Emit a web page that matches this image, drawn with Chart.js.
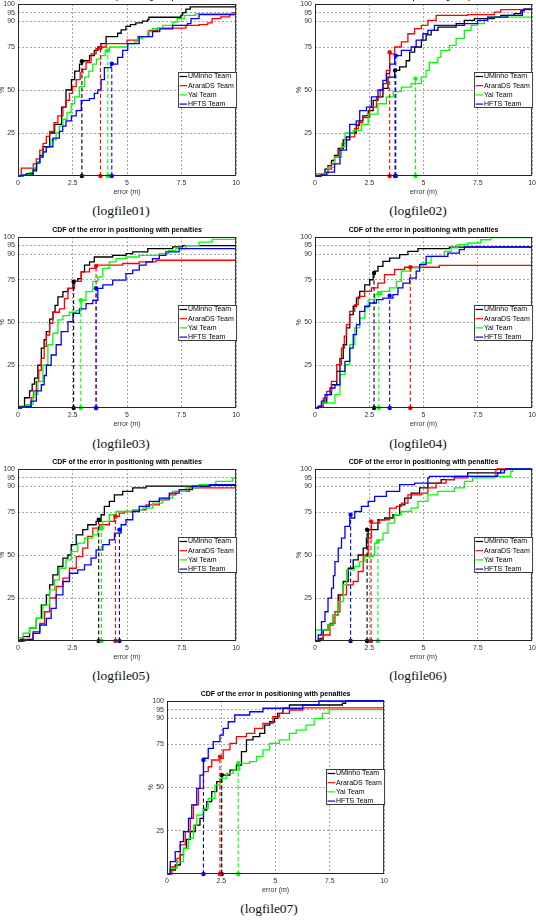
<!DOCTYPE html>
<html><head><meta charset="utf-8">
<script src="https://cdn.jsdelivr.net/npm/chart.js@4/dist/chart.umd.min.js"></script>
<style>
html,body{margin:0;padding:0;background:#fff}
body{width:536px;height:921px;position:relative;overflow:hidden}
.cap{position:absolute;font-family:"Liberation Serif","Times New Roman",serif;font-size:13.5px;color:#111;transform:translate(-50%,-50%);white-space:nowrap}
</style></head><body>
<script>
const TEAMS = ['UMinho Team','AraraDS Team','Yai Team','HFTS Team'];
const COLORS = ['#000000','#ff0000','#00ff00','#0000ff'];
const X_TICKS = [0,2.5,5,7.5,10];
const Y_TICKS = [25,50,75,90,95,100];
const TITLE = 'CDF of the error in positioning with penalties';
const X_LABEL = 'error (m)';
const Y_LABEL = '%';
const CAPTIONS = ['(logfile01)','(logfile02)','(logfile03)','(logfile04)','(logfile05)','(logfile06)','(logfile07)'];

// logfile01
const U01 = [[0,0],[0.25,0.5],[0.7,3],[0.85,8],[1.0,12],[1.15,17],[1.45,25],[1.68,30],[2.0,40],[2.2,50],[2.45,56],[2.6,61],[2.82,65],[2.95,67],[3.28,70],[3.5,73],[3.66,75],[3.8,77],[4.04,81],[4.57,83],[4.73,85],[4.95,87],[5.15,88],[5.4,89],[5.7,90],[5.95,91],[6.0,92.3],[7.47,93.5],[7.55,95],[7.7,97],[7.9,98.3],[10,98.3]];
const R01 = [[0,0],[0.15,4.6],[0.7,7],[0.84,10],[1.0,15],[1.15,19],[1.3,23],[1.45,26],[1.65,31],[1.83,35],[2.06,40],[2.2,44],[2.36,48],[2.5,52],[2.67,56],[2.85,60],[2.97,62],[3.12,66],[3.35,71],[3.58,74],[3.81,75],[4.04,77],[5.0,79],[5.5,81],[6.0,84.7],[6.4,86],[7.7,87.6],[8.3,88],[8.7,89],[8.9,91.5],[9.3,92.5],[9.7,93.8],[9.85,95],[10,95]];
const G01 = [[0,0],[0.23,0.5],[0.5,2],[0.7,5],[0.85,8],[1.0,11],[1.15,14],[1.3,17],[1.5,21],[1.75,25],[1.9,29],[2.06,33],[2.25,37],[2.44,42],[2.6,46],[2.82,52],[3.05,57.5],[3.25,61],[3.43,65],[3.6,68],[3.81,70],[4.0,73],[4.19,75],[5.03,77],[5.34,78],[5.5,80],[5.7,81],[5.95,84],[6.17,85.7],[6.63,87.6],[7.09,89.5],[7.3,91.5],[7.62,93.4],[8.15,94.4],[10,94.4]];
const B01 = [[0,0],[0.15,0.5],[0.38,1.4],[0.69,4],[0.85,7.5],[1.0,11],[1.15,14],[1.3,17],[1.6,22],[1.9,26],[2.05,29],[2.2,32],[2.45,35],[2.67,38],[2.9,44],[3.28,45],[3.5,48],[3.66,50],[3.81,56],[3.96,63],[4.27,65],[4.57,69],[4.8,73],[5.03,77],[5.56,81],[6.17,84],[6.5,85.5],[7.09,87.6],[7.77,88.6],[7.93,91.5],[8.3,93.8],[10,93.8]];
const MARK01_X = [2.93,3.78,4.12,4.3];
const MARK01_Y = [66.7,74.4,73,65.3];

// logfile02
const U02 = [[0,0],[0.3,1],[0.46,4],[0.6,6],[0.76,9],[0.9,12],[1.07,16],[1.3,21],[1.6,25],[1.9,29.5],[2.05,32],[2.2,35],[2.45,38],[2.68,44],[2.9,46],[3.13,51],[3.36,57.5],[3.67,61.4],[3.9,63.4],[4.2,67],[4.36,72],[4.59,75],[4.9,79],[5.12,82],[5.35,84.7],[5.66,86.6],[6.5,88.6],[6.88,90.5],[7.34,91.5],[8.26,92.4],[8.56,93.4],[9.17,94.4],[9.48,96],[9.63,97],[10,97]];
const R02 = [[0,0],[0.15,0.5],[0.38,1.5],[0.6,4],[0.76,7],[0.9,11],[1.07,15],[1.25,19],[1.45,22.7],[1.83,27.5],[2.0,31],[2.2,34],[2.52,40],[2.83,46],[3.0,50],[3.13,53.7],[3.29,61.4],[3.44,71],[3.67,75],[3.98,78],[4.28,82.7],[4.59,85.7],[4.9,87.6],[5.2,90.5],[5.58,93.4],[7.03,93.8],[8.26,95.3],[8.56,96.7],[10,96.7]];
const G02 = [[0,0],[0.05,1.4],[0.38,1.4],[0.6,5],[0.9,11],[1.22,17],[1.38,25],[1.76,26.5],[2.14,30],[2.45,36],[2.9,42],[3.29,46],[3.6,49],[3.98,51.7],[4.43,53.7],[4.9,57.5],[5.12,61.4],[5.27,66],[5.66,69],[5.8,73],[6.2,76],[6.5,80],[6.88,84.7],[7.19,87.6],[7.49,88.6],[7.8,90.5],[7.95,92.4],[10,92.4]];
const B02 = [[0,0],[0.23,0.5],[0.54,2.3],[0.9,7],[1.15,15],[1.45,22.7],[1.6,30],[1.9,32],[2.06,38],[2.37,40],[2.6,46],[2.9,50],[3.13,55.6],[3.29,59.5],[3.44,65],[3.67,70],[3.98,73],[4.43,75],[4.66,79],[4.97,82.7],[5.2,84.7],[5.5,87.6],[6.88,88.6],[7.49,90.5],[7.95,92.4],[8.87,93.4],[9.55,96.3],[9.63,97],[10,97]];
const MARK02_X = [3.69,3.44,4.63,3.72];
const MARK02_Y = [61.4,72,56.6,70];

// logfile03
const U03 = [[0,0],[0.05,1],[0.3,6],[0.53,10],[0.65,14],[0.76,17.5],[0.91,25],[1.07,35],[1.2,40],[1.3,44.7],[1.45,52],[1.6,56],[1.7,60],[1.83,65],[2.06,68],[2.29,70],[2.52,74],[2.74,75.7],[2.9,79.6],[3.05,83.5],[3.28,85.4],[3.5,88.3],[4.34,89.3],[4.95,90.3],[5.26,91.3],[5.95,93.2],[7.09,94.2],[7.55,95],[10,95]];
const R03 = [[0,0],[0.15,0.5],[0.38,1],[0.6,6],[0.72,10],[0.84,15.5],[0.95,22],[1.07,29],[1.2,36],[1.3,42.7],[1.45,49.5],[1.6,56],[1.9,58],[2.13,64],[2.29,70],[2.59,74],[2.9,79.6],[3.28,81.6],[3.58,83.5],[4.8,84.5],[5.56,85.4],[6.33,86.4],[10,86.4]];
const G03 = [[0,0],[0.1,0.5],[0.38,2],[0.69,8],[0.91,15.5],[1.14,25],[1.37,37],[1.6,43.7],[1.83,51.5],[2.06,54],[2.36,56],[2.67,57],[2.9,63],[3.12,68],[3.43,74],[3.66,76.7],[3.89,81.6],[4.19,85.4],[4.5,87.4],[4.95,88.3],[5.56,89.3],[6.48,90.3],[6.9,92],[7.24,93.2],[7.7,95],[8.3,97],[8.9,98.6],[10,98.6]];
const B03 = [[0,0],[0.15,0.5],[0.38,1],[0.6,4],[0.84,10],[1.07,13.6],[1.2,19],[1.3,25],[1.52,31],[1.75,37],[1.98,44.7],[2.29,50.5],[2.52,55.3],[2.82,58],[3.12,61],[3.43,63],[3.66,70],[3.89,72],[4.34,74.8],[4.95,78.6],[5.26,80.6],[5.56,83.5],[5.87,85.4],[6.17,87.4],[6.48,89.3],[6.78,91.3],[7.39,93.2],[10,93.2]];
const MARK03_X = [2.55,3.58,2.88,3.58];
const MARK03_Y = [73.8,83,63,70];

// logfile04
const U04 = [[0,0],[0.15,1],[0.3,3],[0.54,7.8],[0.76,13.6],[1.0,21.4],[1.15,29],[1.3,37],[1.45,46.8],[1.6,54.6],[1.76,59.5],[1.91,64.3],[2.06,68.2],[2.29,72],[2.52,75],[2.68,78],[2.75,80],[2.9,82.8],[3.13,85.8],[3.44,87.7],[3.9,89.7],[4.28,91.6],[4.74,93.2],[6.19,94.1],[10,94.1]];
const R04 = [[0,0],[0.15,1],[0.38,5.8],[0.54,9.7],[0.76,15.6],[1.0,25.3],[1.22,35],[1.35,42],[1.45,48.7],[1.6,56.5],[1.83,60.4],[1.99,65.3],[2.29,68.2],[2.6,70.2],[2.9,73],[3.2,78],[3.67,81],[4.13,82.3],[5.73,83.4],[10,83.4]];
const G04 = [[0,0],[0.15,1],[0.3,3],[0.92,7.8],[1.15,19.5],[1.38,25.3],[1.6,37],[1.83,46.8],[2.06,52.6],[2.29,58.5],[2.45,63.4],[2.75,66.3],[3.06,68.2],[3.44,70.2],[3.75,74],[3.98,80],[4.43,81.9],[4.9,84.8],[5.35,88.7],[5.96,91.6],[6.27,93.6],[6.57,95.5],[7.03,96.5],[7.64,98.4],[8.1,99.6],[10,99.6]];
const B04 = [[0,0],[0.15,1],[0.3,4],[0.46,7.8],[0.69,11.7],[0.92,13.6],[1.15,21.4],[1.38,27.3],[1.6,35],[1.76,42.9],[1.91,48.7],[2.06,56.5],[2.29,59.5],[2.52,61.4],[2.83,63.4],[3.13,64.3],[3.59,66.3],[3.82,70.2],[4.05,73],[4.36,76],[4.66,80],[4.82,83.8],[5.12,88.7],[6.12,90.6],[6.65,92.6],[6.88,94.2],[10,94.2]];
const MARK04_X = [2.72,4.39,2.94,3.44];
const MARK04_Y = [79,82.3,67.3,65.7];

// logfile05
const U05 = [[0,0],[0.1,1],[0.23,2.5],[0.53,7.4],[0.84,13.2],[1.07,21],[1.3,26.8],[1.45,32.6],[1.6,38.4],[1.83,43.3],[2.06,48.2],[2.29,50],[2.44,56],[2.67,61.7],[2.97,64.7],[3.2,67.6],[3.58,69.5],[3.81,73.4],[3.96,78.3],[4.19,81.2],[4.42,85],[4.8,87],[5.26,89],[5.87,90],[8.8,90.5],[10,90.5]];
const R05 = [[0,0],[0.3,1],[0.69,5.4],[1.0,10.3],[1.22,17],[1.45,25],[1.75,31.7],[2.06,36.5],[2.36,42.3],[2.67,49],[2.97,54],[3.2,60.8],[3.43,65.6],[3.73,67.6],[4.19,69.5],[4.42,72.4],[4.65,74.4],[4.88,75.3],[5.26,76.3],[5.87,79.2],[6.48,82.1],[6.94,85],[7.24,87],[7.85,89],[10,89]];
const G05 = [[0,0],[0.02,2],[0.23,4.5],[0.53,7.4],[0.84,13.2],[1.14,21],[1.45,29.7],[1.68,35.5],[1.9,42.3],[2.2,47.2],[2.44,52],[2.74,56.9],[3.05,59.8],[3.43,61.7],[3.66,64.7],[3.89,69.5],[4.19,73.4],[4.5,75.3],[5.26,76.3],[5.72,77.3],[6.17,80.2],[6.63,83.1],[7.09,87],[7.7,89],[8.3,90.9],[9.07,92.8],[9.83,94.8],[10,94.8]];
const B05 = [[0,0],[0.23,0.5],[0.46,1],[0.69,4.5],[1.0,9.3],[1.3,13.2],[1.52,19],[1.75,26.8],[2.06,34.6],[2.36,39.4],[2.74,41.4],[3.05,44.3],[3.35,48.2],[3.58,53],[3.89,56],[4.19,58.8],[4.42,62.7],[4.73,67.6],[4.95,70.5],[5.26,75.3],[5.56,78.3],[6.02,81.2],[6.48,83.1],[6.94,86],[7.39,88],[8.0,90],[8.77,90.9],[10,90.9]];
const MARK05_X = [3.7,4.47,3.83,4.65];
const MARK05_Y = [70.5,72.4,65.6,64.7];

// logfile06
const U06 = [[0,0],[0.23,1.5],[0.38,6.4],[0.6,9.3],[0.84,15.1],[1.07,26.8],[1.3,34.6],[1.53,42.3],[1.76,47.2],[1.99,50],[2.22,54],[2.37,59.8],[2.45,64.7],[2.9,70.5],[3.21,71.5],[3.59,73.4],[3.9,79.2],[4.13,83.1],[4.43,86],[4.82,89],[5.2,91.8],[5.81,93.8],[6.42,95.7],[7.03,97.7],[8.56,99.6],[8.8,100],[10,100]];
const R06 = [[0,0],[0.15,1],[0.38,3.5],[0.69,10.3],[0.92,17],[1.15,26.8],[1.45,32.6],[1.76,34.6],[1.99,40.4],[2.22,50],[2.45,59.8],[2.6,68.5],[2.98,70.5],[3.44,77.3],[3.75,78.3],[3.98,80.2],[4.28,85],[4.9,86],[5.2,89],[5.58,91.8],[6.04,93.8],[6.42,94.8],[7.03,95.7],[8.33,99.6],[8.4,100],[10,100]];
const G06 = [[0,0],[0.03,6.4],[0.46,6.4],[0.6,9.3],[0.84,15.1],[1.07,22.9],[1.3,32.6],[1.45,41.4],[1.83,43.3],[2.06,46.2],[2.29,49.1],[2.68,50],[2.75,56.9],[2.9,58.8],[3.13,62.7],[3.36,68.5],[3.67,73.4],[3.98,75.3],[4.43,77.3],[4.74,81.2],[5.2,85],[5.66,87],[6.42,89],[6.88,92.8],[7.26,94.8],[8.26,95.7],[9.02,98.6],[9.1,100],[10,100]];
const B06 = [[0,0],[0.15,3.5],[0.3,11.3],[0.46,17],[0.6,24.9],[0.76,30.7],[0.85,38],[0.92,46.2],[1.07,54],[1.22,59.8],[1.38,66.6],[1.6,71.5],[1.83,75.3],[2.14,78.3],[2.45,81.2],[2.75,84.1],[3.29,87],[3.9,90.9],[4.59,91.8],[5.2,94.8],[5.27,95.7],[8.41,97.7],[8.72,99.6],[8.8,100],[10,100]];
const MARK06_X = [2.4,2.58,2.9,1.64];
const MARK06_Y = [64.7,69.5,57.9,73.4];

// logfile07
const U07 = [[0,0],[0.15,2.3],[0.38,5.2],[0.61,11],[0.76,14.8],[0.9,20],[1.07,24.5],[1.3,28.3],[1.52,32.2],[1.68,37],[1.83,41.8],[2.06,47.6],[2.29,53.4],[2.52,57.2],[2.9,60],[3.2,63],[3.43,70.7],[3.66,77.5],[3.96,79.4],[4.27,81.3],[4.5,86.1],[4.73,88],[4.95,90],[5.1,92.9],[5.34,95.8],[5.64,97.7],[8.08,98.7],[8.23,100],[10,100]];
const R07 = [[0,0],[0.23,4.2],[0.46,9],[0.61,16.8],[0.84,24.5],[1.07,32.2],[1.22,39.9],[1.45,49.5],[1.68,59.2],[1.9,62],[2.06,65.9],[2.44,66.9],[2.59,71.7],[2.9,75.5],[3.2,79.4],[3.66,81.3],[4.04,84.2],[4.42,87.1],[4.88,90.9],[5.18,92.9],[5.64,94.8],[6.25,96],[10,96]];
const G07 = [[0,0],[0.15,3.3],[0.46,7.1],[0.76,14.8],[0.99,20.6],[1.22,28.3],[1.37,34.1],[1.68,38],[1.9,43.7],[2.21,51.4],[2.44,55.3],[2.74,58.2],[3.05,60.1],[3.35,64],[3.81,64.9],[4.12,67.8],[4.42,71.7],[4.73,75.5],[5.18,77.5],[5.64,81.3],[5.95,83.2],[6.4,86.1],[6.78,90],[7.16,92.9],[7.47,95],[10,95]];
const B07 = [[0,0],[0.15,7.1],[0.38,12.9],[0.61,18.7],[0.76,24.5],[0.99,32.2],[1.14,39.9],[1.37,49.5],[1.52,57.2],[1.68,66.9],[1.9,72.6],[2.13,76.5],[2.44,80.3],[2.59,84.2],[2.82,88],[3.12,91.9],[3.81,93.8],[4.42,95.8],[6.25,97.7],[7.0,100],[10,100]];
const MARK07_X = [2.52,2.44,3.28,1.68];
const MARK07_Y = [57.2,67.8,64,65.9];

// layout (plot-area boxes in page pixels)
const PANELS = [
  {curves:[U01,R01,G01,B01], mx:MARK01_X, my:MARK01_Y, cap:CAPTIONS[0], L:18, T:4, R:237, B:176, cx:121, cy:211},
  {curves:[U02,R02,G02,B02], mx:MARK02_X, my:MARK02_Y, cap:CAPTIONS[1], L:315, T:4, R:533, B:176, cx:418, cy:211},
  {curves:[U03,R03,G03,B03], mx:MARK03_X, my:MARK03_Y, cap:CAPTIONS[2], L:18, T:237, R:237, B:408, cx:121, cy:444},
  {curves:[U04,R04,G04,B04], mx:MARK04_X, my:MARK04_Y, cap:CAPTIONS[3], L:315, T:237, R:533, B:408, cx:418, cy:444},
  {curves:[U05,R05,G05,B05], mx:MARK05_X, my:MARK05_Y, cap:CAPTIONS[4], L:18, T:469, R:237, B:641, cx:121, cy:676},
  {curves:[U06,R06,G06,B06], mx:MARK06_X, my:MARK06_Y, cap:CAPTIONS[5], L:315, T:469, R:533, B:641, cx:418, cy:676},
  {curves:[U07,R07,G07,B07], mx:MARK07_X, my:MARK07_Y, cap:CAPTIONS[6], L:167, T:701, R:385, B:874, cx:269, cy:909}
];

Chart.defaults.font.family = '"Liberation Sans", Arial, sans-serif';
Chart.defaults.font.size = 7;

const PADL = 20, PADT = 14, PADR = 6, PADB = 24;

function decorPlugin(){
  return {
    id:'decor',
    afterDraw(chart){
      const ctx = chart.ctx, a = chart.chartArea;
      ctx.save();
      ctx.strokeStyle = '#262626'; ctx.lineWidth = 1; ctx.setLineDash([]);
      ctx.strokeRect(a.left+0.5, a.top+0.5, a.right-a.left-1, a.bottom-a.top-1);
      ctx.fillStyle = '#000';
      ctx.font = 'bold 7px "Liberation Sans", Arial, sans-serif';
      ctx.textAlign = 'center'; ctx.textBaseline = 'middle';
      ctx.fillText(TITLE, (a.left+a.right)/2, a.top-6.7);
      const x0 = a.right-58, x1 = a.right+1, y0 = a.top+68, y1 = a.top+104;
      ctx.fillStyle = '#fff'; ctx.fillRect(x0, y0, x1-x0, y1-y0);
      ctx.strokeStyle = '#262626'; ctx.lineWidth = 0.9;
      ctx.strokeRect(x0+0.5, y0+0.5, x1-x0-1, y1-y0-1);
      ctx.font = '7px "Liberation Sans", Arial, sans-serif';
      ctx.textAlign = 'left';
      TEAMS.forEach((t,i)=>{
        const y = y0 + 4.5 + i*9.2;
        ctx.strokeStyle = COLORS[i]; ctx.lineWidth = 1.2;
        ctx.beginPath(); ctx.moveTo(x0+1.5, y); ctx.lineTo(x0+9, y); ctx.stroke();
        ctx.fillStyle = '#000'; ctx.fillText(t, x0+9.8, y);
      });
      ctx.restore();
    }
  };
}

function makePanel(p){
  const W = p.R - p.L + PADL + PADR, H = p.B - p.T + PADT + PADB;
  const cv = document.createElement('canvas');
  cv.width = W; cv.height = H;
  cv.style.cssText = `position:absolute;left:${p.L-PADL}px;top:${p.T-PADT}px;width:${W}px;height:${H}px`;
  document.body.appendChild(cv);
  const datasets = [];
  for (let i=3;i>=0;i--) {
    datasets.push({
      data:[{x:p.mx[i],y:0},{x:p.mx[i],y:p.my[i]}],
      borderColor:COLORS[i], backgroundColor:COLORS[i], borderWidth:1.1, borderDash:[4,2.5],
      pointRadius:2.2, pointBorderWidth:0, pointBackgroundColor:COLORS[i], fill:false, clip:4
    });
  }
  for (let i=3;i>=0;i--) {
    datasets.push({
      data:p.curves[i].map(([x,y])=>({x,y})),
      borderColor:COLORS[i], borderWidth:1.3, pointRadius:0, stepped:true, fill:false, clip:3
    });
  }
  new Chart(cv, {
    type:'line',
    data:{datasets},
    options:{
      responsive:false, animation:false, devicePixelRatio:1,
      layout:{padding:{top:PADT,right:PADR,left:0,bottom:0}},
      plugins:{legend:{display:false}, tooltip:{enabled:false}, title:{display:false}},
      scales:{
        x:{type:'linear', min:0, max:10,
          afterBuildTicks:s=>{ s.ticks = X_TICKS.map(v=>({value:v})); },
          afterFit:s=>{ s.height = PADB; },
          ticks:{autoSkip:false, maxRotation:0, padding:3, color:'#333', font:{size:7}, callback:v=>String(v)},
          grid:{color:'#8f8f8f', lineWidth:0.8, drawTicks:false},
          border:{display:false, dash:[2,2]},
          title:{display:true, text:X_LABEL, color:'#333', font:{size:7}, padding:{top:0,bottom:4}}
        },
        y:{type:'linear', min:0, max:100,
          afterBuildTicks:s=>{ s.ticks = Y_TICKS.map(v=>({value:v})); },
          afterFit:s=>{ s.width = PADL; },
          ticks:{autoSkip:false, padding:3, color:'#333', font:{size:7}, callback:v=>String(v)},
          grid:{color:'#8f8f8f', lineWidth:0.8, drawTicks:false},
          border:{display:false, dash:[2,2]},
          title:{display:true, text:Y_LABEL, color:'#333', font:{size:7}, padding:{top:0,bottom:0}}
        }
      }
    },
    plugins:[decorPlugin()]
  });
  const c = document.createElement('div');
  c.className = 'cap'; c.textContent = p.cap;
  c.style.left = p.cx+'px'; c.style.top = p.cy+'px';
  document.body.appendChild(c);
}

PANELS.forEach(makePanel);
</script>
</body></html>
